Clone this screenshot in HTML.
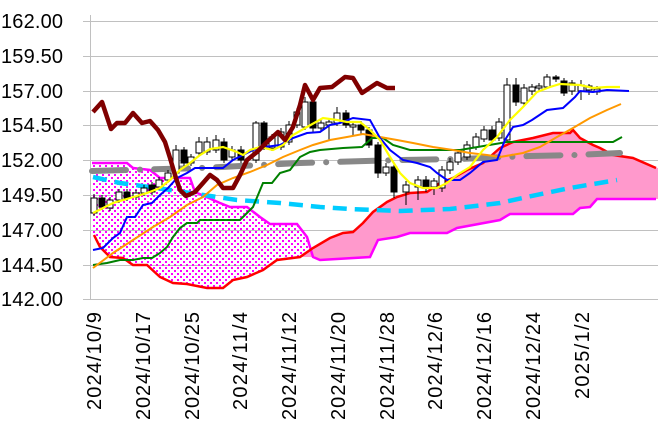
<!DOCTYPE html>
<html><head><meta charset="utf-8"><style>
html,body{margin:0;padding:0;background:#fff;}
svg{display:block;font-family:"Liberation Sans",sans-serif;}
</style></head><body>
<svg width="669" height="436" viewBox="0 0 669 436" xmlns="http://www.w3.org/2000/svg">
<defs>
<pattern id="dots" patternUnits="userSpaceOnUse" width="6" height="6">
<rect x="0" y="0" width="2" height="2" fill="#ff00ff"/>
<rect x="3" y="3" width="2" height="2" fill="#ff00ff"/>
</pattern>
</defs>
<!-- gridlines -->
<g stroke="#c0c0c0" stroke-width="1">
<line x1="83" y1="21.5" x2="658" y2="21.5"/>
<line x1="83" y1="56.5" x2="658" y2="56.5"/>
<line x1="83" y1="91.5" x2="658" y2="91.5"/>
<line x1="83" y1="125.5" x2="658" y2="125.5"/>
<line x1="83" y1="160.5" x2="658" y2="160.5"/>
<line x1="83" y1="195.5" x2="658" y2="195.5"/>
<line x1="83" y1="230.5" x2="658" y2="230.5"/>
<line x1="83" y1="265.5" x2="658" y2="265.5"/>
<line x1="83" y1="299.5" x2="658" y2="299.5"/>
<line x1="90.5" y1="15" x2="90.5" y2="299"/>
</g>
<!-- y labels -->
<g font-size="20" text-anchor="end" fill="#000">
<text x="63" y="28" textLength="62">162.00</text>
<text x="63" y="63" textLength="62">159.50</text>
<text x="63" y="98" textLength="62">157.00</text>
<text x="63" y="132" textLength="62">154.50</text>
<text x="63" y="167" textLength="62">152.00</text>
<text x="63" y="202" textLength="62">149.50</text>
<text x="63" y="237" textLength="62">147.00</text>
<text x="63" y="272" textLength="62">144.50</text>
<text x="63" y="306" textLength="62">142.00</text>
</g>
<!-- x labels -->
<g font-size="20" text-anchor="end" fill="#000">
<text transform="translate(101,312) rotate(-90)" textLength="98">2024/10/9</text>
<text transform="translate(150,312) rotate(-90)" textLength="108">2024/10/17</text>
<text transform="translate(199,312) rotate(-90)" textLength="108">2024/10/25</text>
<text transform="translate(247,312) rotate(-90)" textLength="98">2024/11/4</text>
<text transform="translate(296,312) rotate(-90)" textLength="108">2024/11/12</text>
<text transform="translate(345,312) rotate(-90)" textLength="108">2024/11/20</text>
<text transform="translate(394,312) rotate(-90)" textLength="108">2024/11/28</text>
<text transform="translate(442,312) rotate(-90)" textLength="98">2024/12/6</text>
<text transform="translate(491,312) rotate(-90)" textLength="108">2024/12/16</text>
<text transform="translate(540,312) rotate(-90)" textLength="108">2024/12/24</text>
<text transform="translate(589,312) rotate(-90)" textLength="87">2025/1/2</text>
</g>
<!-- dotted cloud -->
<polygon fill="url(#dots)" points="92,163 127,163 133,168 150,170 160,178 190,178 195,192 220,203 230,207 247,207 260,217 270,224 297,224 307,237 313,257 300,257 277,260 263,270 247,277 233,280 223,288 207,288 187,284 173,283 160,277 147,265 133,265 123,258 110,257 100,247 94,235 92,232"/>
<!-- pink cloud -->
<polygon fill="#ff99cc" points="300,257 313,248 330,238 343,233 353,232 363,223 373,212 387,202 397,197 410,193 427,192 440,183 453,178 467,170 483,163 500,148 513,142 533,138 553,133 570,133 573,130 580,138 593,145 600,148 613,155 633,158 653,167 658,168 658,199 597,199 590,207 580,208 573,214 510,214 500,220 457,228 447,233 410,233 397,237 378,240 370,257 320,260 313,257"/>
<!-- magenta line -->
<polyline fill="none" stroke="#ff00ff" stroke-width="2.5" points="92,163 127,163 133,168 150,170 160,178 190,178 195,192 220,203 230,207 247,207 260,217 270,224 297,224 307,237 313,257 320,260 370,257 378,240 397,237 410,233 447,233 457,228 500,220 510,214 573,214 580,208 590,207 597,199 656,199"/>
<!-- red line -->
<polyline fill="none" stroke="#ff0000" stroke-width="2.5" points="94,235 100,247 110,257 123,258 133,265 147,265 160,277 173,283 187,284 207,288 223,288 233,280 247,277 263,270 277,260 300,257 313,248 330,238 343,233 353,232 363,223 373,212 387,202 397,197 410,193 427,192 440,183 453,178 467,170 483,163 500,148 513,142 533,138 553,133 570,133 573,130 580,138 593,145 600,148 613,155 633,158 656,168"/>
<!-- cyan dashed -->
<polyline fill="none" stroke="#00ccff" stroke-width="4.5" stroke-dasharray="14 8" points="93,177 120,183 157,188 190,193 237,200 280,203 320,207 350,209 400,211 450,209 500,203 527,197 570,188 617,180"/>
<!-- gray dash-dot -->
<polyline fill="none" stroke="#888888" stroke-width="6" stroke-linecap="round" stroke-dasharray="34 14 0.1 14" points="92,171 200,168 300,163 400,160 460,159 530,156 575,155 620,153"/>
<!-- candles -->
<g stroke="#000" stroke-width="1">
<line x1="94" y1="194" x2="94" y2="216"/><rect x="91" y="198" width="6" height="15" fill="#fff"/>
<line x1="102" y1="195" x2="102" y2="210"/><rect x="99" y="198" width="6" height="9" fill="#000"/>
<line x1="110" y1="197" x2="110" y2="211"/><rect x="107" y="200" width="6" height="8" fill="#fff"/>
<line x1="119" y1="189" x2="119" y2="203"/><rect x="116" y="192" width="6" height="8" fill="#fff"/>
<line x1="127" y1="189" x2="127" y2="201"/><rect x="124" y="192" width="6" height="6" fill="#000"/>
<line x1="136" y1="190" x2="136" y2="200"/><rect x="133" y="193" width="6" height="4" fill="#fff"/>
<line x1="144" y1="185" x2="144" y2="196"/><rect x="141" y="188" width="6" height="5" fill="#fff"/>
<line x1="152" y1="182" x2="152" y2="195"/><rect x="149" y="185" width="6" height="7" fill="#000"/>
<line x1="159" y1="177" x2="159" y2="190"/><rect x="156" y="180" width="6" height="7" fill="#fff"/>
<line x1="168" y1="170" x2="168" y2="183"/><rect x="165" y="173" width="6" height="7" fill="#fff"/>
<line x1="176" y1="145" x2="176" y2="176"/><rect x="173" y="150" width="6" height="23" fill="#fff"/>
<line x1="184" y1="147" x2="184" y2="166"/><rect x="181" y="150" width="6" height="13" fill="#000"/>
<line x1="191" y1="154" x2="191" y2="166"/><rect x="188" y="157" width="6" height="6" fill="#fff"/>
<line x1="199" y1="137" x2="199" y2="156"/><rect x="196" y="142" width="6" height="11" fill="#fff"/>
<line x1="207" y1="137" x2="207" y2="155"/><rect x="204" y="142" width="6" height="10" fill="#fff"/>
<line x1="216" y1="135" x2="216" y2="153"/><rect x="213" y="140" width="6" height="10" fill="#fff"/>
<line x1="224" y1="138" x2="224" y2="163"/><rect x="221" y="142" width="6" height="18" fill="#000"/>
<line x1="232" y1="146" x2="232" y2="160"/><rect x="229" y="150" width="6" height="7" fill="#fff"/>
<line x1="241" y1="146" x2="241" y2="163"/><rect x="238" y="150" width="6" height="10" fill="#000"/>
<line x1="256" y1="121" x2="256" y2="163"/><rect x="253" y="123" width="6" height="37" fill="#fff"/>
<line x1="264" y1="121" x2="264" y2="150"/><rect x="261" y="123" width="6" height="24" fill="#000"/>
<line x1="272" y1="134" x2="272" y2="151"/><rect x="269" y="137" width="6" height="11" fill="#fff"/>
<line x1="281" y1="128" x2="281" y2="150"/><rect x="278" y="132" width="6" height="15" fill="#fff"/>
<line x1="289" y1="121" x2="289" y2="145"/><rect x="286" y="125" width="6" height="17" fill="#fff"/>
<line x1="297" y1="108" x2="297" y2="128"/><rect x="294" y="112" width="6" height="13" fill="#fff"/>
<line x1="305" y1="97" x2="305" y2="130"/><rect x="302" y="102" width="6" height="25" fill="#fff"/>
<line x1="313" y1="98" x2="313" y2="132"/><rect x="310" y="102" width="6" height="26" fill="#000"/>
<line x1="321" y1="120" x2="321" y2="131"/><rect x="318" y="123" width="6" height="5" fill="#fff"/>
<line x1="329" y1="118" x2="329" y2="140"/><rect x="326" y="122" width="6" height="3" fill="#fff"/>
<line x1="337" y1="107" x2="337" y2="126"/><rect x="334" y="113" width="6" height="10" fill="#fff"/>
<line x1="346" y1="110" x2="346" y2="128"/><rect x="343" y="113" width="6" height="12" fill="#000"/>
<line x1="353" y1="121" x2="353" y2="135"/><rect x="350" y="125" width="6" height="2" fill="#fff"/>
<line x1="361" y1="121" x2="361" y2="134"/><rect x="358" y="125" width="6" height="5" fill="#000"/>
<line x1="369" y1="127" x2="369" y2="148"/><rect x="366" y="130" width="6" height="15" fill="#000"/>
<line x1="378" y1="142" x2="378" y2="178"/><rect x="375" y="145" width="6" height="28" fill="#000"/>
<line x1="386" y1="163" x2="386" y2="176"/><rect x="383" y="167" width="6" height="6" fill="#fff"/>
<line x1="394" y1="164" x2="394" y2="198"/><rect x="391" y="167" width="6" height="25" fill="#000"/>
<line x1="406" y1="181" x2="406" y2="205"/><rect x="403" y="185" width="6" height="7" fill="#fff"/>
<line x1="418" y1="176" x2="418" y2="200"/><rect x="415" y="180" width="6" height="7" fill="#fff"/>
<line x1="426" y1="176" x2="426" y2="192"/><rect x="423" y="180" width="6" height="8" fill="#000"/>
<line x1="434" y1="178" x2="434" y2="195"/><rect x="431" y="181" width="6" height="6" fill="#fff"/>
<line x1="442" y1="166" x2="442" y2="192"/><rect x="439" y="170" width="6" height="18" fill="#fff"/>
<line x1="450" y1="158" x2="450" y2="174"/><rect x="447" y="162" width="6" height="8" fill="#fff"/>
<line x1="458" y1="150" x2="458" y2="165"/><rect x="455" y="153" width="6" height="9" fill="#fff"/>
<line x1="467" y1="141" x2="467" y2="160"/><rect x="464" y="145" width="6" height="12" fill="#fff"/>
<line x1="476" y1="133" x2="476" y2="150"/><rect x="473" y="137" width="6" height="10" fill="#fff"/>
<line x1="484" y1="126" x2="484" y2="142"/><rect x="481" y="130" width="6" height="9" fill="#fff"/>
<line x1="492" y1="126" x2="492" y2="143"/><rect x="489" y="130" width="6" height="10" fill="#000"/>
<line x1="499" y1="118" x2="499" y2="141"/><rect x="496" y="122" width="6" height="16" fill="#fff"/>
<line x1="507" y1="78" x2="507" y2="142"/><rect x="504" y="85" width="6" height="55" fill="#fff"/>
<line x1="516" y1="78" x2="516" y2="106"/><rect x="513" y="85" width="6" height="17" fill="#000"/>
<line x1="524" y1="84" x2="524" y2="106"/><rect x="521" y="88" width="6" height="15" fill="#fff"/>
<line x1="532" y1="84" x2="532" y2="95"/><rect x="529" y="87" width="6" height="4" fill="#fff"/>
<line x1="539" y1="83" x2="539" y2="91"/><rect x="536" y="86" width="6" height="2" fill="#fff"/>
<line x1="547" y1="74" x2="547" y2="89"/><rect x="544" y="77" width="6" height="10" fill="#fff"/>
<line x1="556" y1="75" x2="556" y2="82"/><rect x="553" y="77" width="6" height="2" fill="#000"/>
<line x1="564" y1="78" x2="564" y2="96"/><rect x="561" y="81" width="6" height="12" fill="#000"/>
<line x1="572" y1="80" x2="572" y2="95"/><rect x="569" y="83" width="6" height="8" fill="#fff"/>
<line x1="581" y1="80" x2="581" y2="100"/><rect x="578" y="85" width="6" height="6" fill="#fff"/>
<line x1="589" y1="84" x2="589" y2="95"/><rect x="586" y="86" width="6" height="4" fill="#fff"/>
<line x1="597" y1="86" x2="597" y2="95"/><rect x="594" y="89" width="6" height="3" fill="#fff"/>
</g>
<!-- green -->
<polyline fill="none" stroke="#008000" stroke-width="2" points="93,265 107,263 120,260 133,260 143,258 152,258 160,253 167,247 173,237 180,228 187,223 197,223 200,220 240,220 253,207 263,183 272,183 280,173 290,170 300,157 310,152 320,150 343,148 362,147 372,138 383,138 393,145 410,150 460,150 507,142 613,142 622,137"/>
<!-- orange -->
<polyline fill="none" stroke="#ff9900" stroke-width="2" points="93,268 113,253 133,240 153,227 170,217 187,205 203,197 217,185 233,178 250,172 267,165 283,157 300,150 313,145 330,140 347,137 363,134 380,137 397,140 413,143 433,147 453,150 470,153 487,155 500,157 523,153 540,147 557,137 573,128 590,118 607,110 621,104"/>
<!-- blue -->
<polyline fill="none" stroke="#0000ff" stroke-width="2" points="93,250 103,248 113,238 120,233 127,217 135,217 143,205 152,203 160,195 168,188 177,178 187,173 195,168 223,168 233,160 243,155 253,150 265,147 280,145 293,138 307,133 320,132 330,125 340,123 353,118 370,120 380,138 390,150 403,160 417,163 430,167 437,173 447,180 460,180 470,173 483,162 497,160 505,140 513,127 523,125 532,120 547,110 563,108 575,97 580,91 593,92 607,90 629,91"/>
<!-- yellow -->
<polyline fill="none" stroke="#ffff00" stroke-width="2.2" points="93,213 113,203 130,198 147,193 160,188 170,180 180,170 190,163 200,155 210,149 223,147 237,152 243,155 250,150 260,147 273,150 283,145 293,135 307,127 323,118 337,120 347,122 360,122 370,130 380,140 390,157 400,173 410,183 423,188 437,188 447,183 457,175 470,167 483,150 497,137 510,120 523,107 537,92 550,87 560,84 580,85 593,88 607,87 620,87"/>
<!-- chikou -->
<polyline fill="none" stroke="#800000" stroke-width="4.5" stroke-linejoin="round" points="93,112 102,102 111,129 117,123 125,123 133,113 142,123 150,121 158,130 165,142 170,158 175,175 180,190 186,196 195,192 203,183 210,175 217,180 223,188 233,188 240,175 247,160 257,152 267,142 278,132 285,140 293,127 300,105 305,85 313,100 320,88 332,87 345,77 353,78 362,93 377,83 387,88 395,88"/>
</svg>
</body></html>
